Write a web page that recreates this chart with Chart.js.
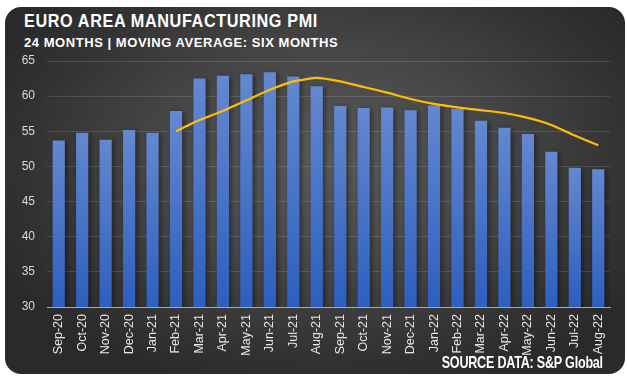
<!DOCTYPE html>
<html>
<head>
<meta charset="utf-8">
<script src="https://cdn.jsdelivr.net/npm/chart.js@4"></script>
<style>
  html, body { margin: 0; padding: 0; background: #fff; }
  #wrap { position: relative; width: 627px; height: 381px; overflow: hidden; }
  #card {
    position: absolute; left: 5px; top: 7px; width: 620px; height: 367px;
    border-radius: 16px;
    background: radial-gradient(ellipse 60% 65% at 52% 42%, #5a5a5a 0%, #474747 45%, #333 80%, #2a2a2a 100%);
  }
  #chartBox { position: absolute; left: 0; top: 0; width: 627px; height: 381px; }
  .title, .sub, .source { position: absolute; color: #fff; font-weight: bold; white-space: nowrap; }
  .title { left: 24px; top: 11px; font: bold 18px "Liberation Sans", Arial, sans-serif; letter-spacing: 0.7px;
    transform: scaleX(0.9); transform-origin: left center; }
  .sub { left: 24px; top: 35px; font: bold 13px "Liberation Sans", Arial, sans-serif; letter-spacing: 0.55px; }
  .source { right: 24px; top: 353px; font: bold 17px "Liberation Sans", Arial, sans-serif; letter-spacing: -0.3px;
    transform: scaleX(0.74); transform-origin: right center; }
</style>
</head>
<body>
<div id="wrap">
  <div id="card"></div>
  <div class="title">EURO AREA MANUFACTURING PMI</div>
  <div class="sub">24 MONTHS | MOVING AVERAGE: SIX MONTHS</div>
  <div id="chartBox"><canvas id="pmiChart"></canvas></div>
  <div class="source">SOURCE DATA: S&amp;P Global</div>
</div>
<script>
// ===== Data =====
const months = ['Sep-20', 'Oct-20', 'Nov-20', 'Dec-20', 'Jan-21', 'Feb-21', 'Mar-21', 'Apr-21',
  'May-21', 'Jun-21', 'Jul-21', 'Aug-21', 'Sep-21', 'Oct-21', 'Nov-21', 'Dec-21',
  'Jan-22', 'Feb-22', 'Mar-22', 'Apr-22', 'May-22', 'Jun-22', 'Jul-22', 'Aug-22'];

const pmi = [53.7, 54.8, 53.8, 55.2, 54.8, 57.9, 62.5, 62.9, 63.1, 63.4, 62.8, 61.4,
  58.6, 58.3, 58.4, 58.0, 58.7, 58.2, 56.5, 55.5, 54.6, 52.1, 49.8, 49.6];

const movingAvg = [null, null, null, null, null, 55.0, 56.6, 57.9, 59.4, 60.9, 62.1, 62.6,
  62.1, 61.3, 60.5, 59.6, 58.9, 58.4, 58.0, 57.6, 56.9, 55.9, 54.4, 53.0];

const yTicks = { min: 30, max: 65, step: 5 };

// ===== Helpers =====
const barFill = (ctx) => {
  const chart = ctx.chart;
  if (!chart.chartArea || ctx.dataIndex === undefined) return '#4a74c9';
  const yScale = chart.scales.y;
  const top = yScale.getPixelForValue(ctx.raw);
  const bottom = yScale.getPixelForValue(yTicks.min);
  const g = chart.ctx.createLinearGradient(0, top, 0, bottom);
  g.addColorStop(0, '#6488d0');
  g.addColorStop(1, '#2d5fbf');
  return g;
};

const barShadow = {
  id: 'barShadow',
  beforeDatasetDraw(chart, args) {
    if (args.index !== 0) return;
    const c = chart.ctx;
    c.save();
    c.shadowColor = 'rgba(0,0,0,0.45)';
    c.shadowBlur = 5;
    c.shadowOffsetX = 2;
    c.shadowOffsetY = 1;
  },
  afterDatasetDraw(chart, args) {
    if (args.index !== 0) return;
    chart.ctx.restore();
  }
};

// ===== Chart =====
const ctx = document.getElementById('pmiChart').getContext('2d');
new Chart(ctx, {
  type: 'bar',
  data: {
    labels: months,
    datasets: [
      {
        label: 'PMI',
        data: pmi,
        backgroundColor: barFill,
        barPercentage: 0.52,
        categoryPercentage: 1.0,
        order: 2
      },
      {
        type: 'line',
        label: 'Six month moving average',
        data: movingAvg,
        borderColor: '#ffbf00',
        borderWidth: 2.2,
        pointRadius: 0,
        tension: 0.15,
        fill: false,
        order: 1
      }
    ]
  },
  options: {
    responsive: true,
    maintainAspectRatio: false,
    animation: false,
    layout: { padding: { top: 61, right: 17, bottom: 0, left: 0 } },
    plugins: { legend: { display: false }, tooltip: { enabled: false } },
    scales: {
      x: {
        afterFit: (s) => { s.height = 74; },
        grid: { display: false, drawTicks: false },
        border: { color: '#a8a8a8', width: 1 },
        ticks: {
          color: '#e6e6e6',
          font: { family: 'Liberation Sans, Arial, sans-serif', size: 12.5 },
          minRotation: 90,
          maxRotation: 90,
          autoSkip: false,
          padding: 7
        }
      },
      y: {
        min: yTicks.min,
        max: yTicks.max,
        afterFit: (s) => { s.width = 47; },
        grid: { color: 'rgba(255,255,255,0.13)', drawTicks: false, lineWidth: 1 },
        border: { display: false },
        ticks: {
          stepSize: yTicks.step,
          color: '#d9d9d9',
          font: { family: 'Liberation Sans, Arial, sans-serif', size: 12 },
          padding: 12
        }
      }
    }
  },
  plugins: [barShadow]
});
</script>
</body>
</html>
